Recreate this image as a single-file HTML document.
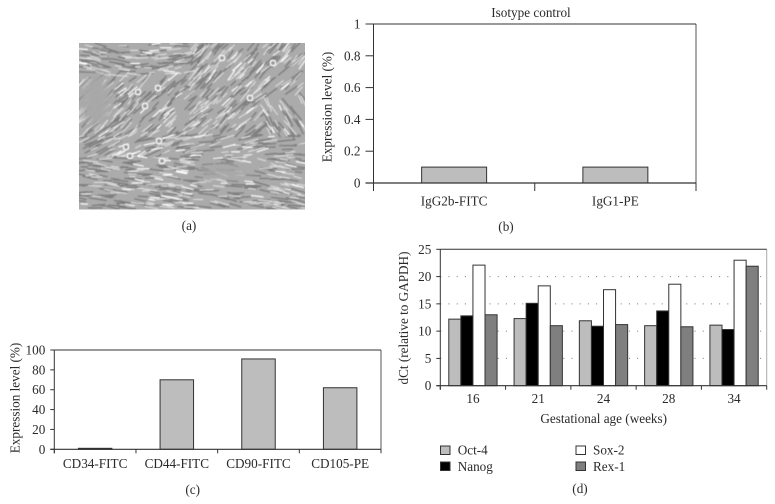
<!DOCTYPE html>
<html>
<head>
<meta charset="utf-8">
<style>
html,body{margin:0;padding:0;background:#fff;}
svg{display:block;}
text{font-family:"Liberation Serif",serif;fill:#2a2a2a;font-size:13.2px;}
</style>
</head>
<body>
<svg id="fig" width="775" height="504" viewBox="0 0 775 504" xmlns="http://www.w3.org/2000/svg">
<defs>
<clipPath id="photoClip"><rect x="79" y="43" width="226" height="166.5"/></clipPath>
<filter id="soft" x="-5%" y="-5%" width="110%" height="110%"><feGaussianBlur stdDeviation="0.6"/></filter>
<filter id="softer" x="-30%" y="-30%" width="160%" height="160%"><feGaussianBlur stdDeviation="5"/></filter>
</defs>
<rect width="775" height="504" fill="#fff"/>
<g id="photo" clip-path="url(#photoClip)"></g>
<text x="189" y="230" text-anchor="middle">(a)</text>
<g id="chartB"></g>
<g id="chartC"></g>
<g id="chartD"></g>
</svg>
<script>
// Chart data
const bCategories = ['IgG2b-FITC', 'IgG1-PE'];
const bValues = [0.1, 0.1];
const bTicks = [0, 0.2, 0.4, 0.6, 0.8, 1];

const cCategories = ['CD34-FITC', 'CD44-FITC', 'CD90-FITC', 'CD105-PE'];
const cValues = [1, 70, 91, 62];
const cTicks = [0, 20, 40, 60, 80, 100];

const dCategories = ['16', '21', '24', '28', '34'];
const dOct4 = [12.2, 12.3, 11.9, 11, 11.1];
const dNanog = [12.8, 15.1, 10.9, 13.7, 10.3];
const dSox2 = [22.1, 18.3, 17.6, 18.6, 23];
const dRex1 = [13, 11, 11.2, 10.8, 21.9];
const dTicks = [0, 5, 10, 15, 20, 25];

const NS = 'http://www.w3.org/2000/svg';
function mk(parent, tag, attrs, txt) {
  const el = document.createElementNS(NS, tag);
  for (const k in attrs) el.setAttribute(k, attrs[k]);
  if (txt !== undefined) el.textContent = txt;
  parent.appendChild(el);
  return el;
}
function line(parent, x1, y1, x2, y2, stroke, w) {
  const el = mk(parent, 'line', {x1, y1, x2, y2, stroke: stroke, 'stroke-width': w});
  
  
  return el;
}
function frame(g, L, R, T, B, yMax, ticks, cats, tickLen, labelY, labelPad, edgeColor) {
  const y = v => B - v / yMax * (B - T);
  const cw = (R - L) / cats.length;
  line(g, R, T, R, B, edgeColor, 1);
  line(g, L, T, R, T, '#333', 1);
  ticks.forEach(t => {
    line(g, L - tickLen, y(t), L, y(t), '#333', 1);
    const lab = mk(g, 'text', {x: L - labelPad, y: y(t) + 4.5, 'text-anchor': 'end'}, String(t));
    
    
  });
  line(g, L, T, L, B + tickLen, '#333', 1);
  for (let i = 0; i <= cats.length; i++) {
    line(g, L + i * cw, B, L + i * cw, B + tickLen, '#333', 1);
  }
  cats.forEach((c, i) => {
    const lab = mk(g, 'text', {x: L + (i + .5) * cw, y: labelY, 'text-anchor': 'middle'}, c);
    
    
  });
  return y;
}
function baseline(g, L, R, B) {
  line(g, L, B, R, B, '#333', 1.2);
}
function caption(g, x, y, txt, name) {
  const t = mk(g, 'text', {x, y, 'text-anchor': 'middle'}, txt);
  
  
  return t;
}
function yTitle(g, x, y, txt) {
  const t = mk(g, 'text', {x, y, 'text-anchor': 'middle', transform: 'rotate(-90 ' + x + ' ' + y + ')'}, txt);
  
  
  return t;
}

// Panel (b)
(function () {
  const g = document.getElementById('chartB');
  const L = 373.5, R = 696, T = 24, B = 183;
  const y = frame(g, L, R, T, B, 1, bTicks, bCategories, 8, 205.5, 13, '#555');
  const cw = (R - L) / bCategories.length;
  const bw = cw * 0.403;
  bValues.forEach((v, i) => {
    const cx = L + (i + .5) * cw;
    const r = mk(g, 'rect', {x: cx - bw / 2, y: y(v), width: bw, height: B - y(v), fill: '#bdbdbd', stroke: '#333', 'stroke-width': 1});
    
    
  });
  baseline(g, L - 8, R, B);
  caption(g, 531, 17, 'Isotype control', 'chart-title');
  yTitle(g, 331.5, 107, 'Expression level (%)');
  caption(g, 506, 231, '(b)', 'panel-b-label');
})();

// Panel (c)
(function () {
  const g = document.getElementById('chartC');
  const L = 54.3, R = 381, T = 350, B = 449.3;
  const y = frame(g, L, R, T, B, 100, cTicks, cCategories, 4, 468, 9, '#555');
  const cw = (R - L) / cCategories.length;
  const bw = cw * 0.41;
  cValues.forEach((v, i) => {
    const cx = L + (i + .5) * cw;
    const r = mk(g, 'rect', {x: cx - bw / 2, y: y(v), width: bw, height: B - y(v), fill: '#bdbdbd', stroke: '#333', 'stroke-width': 1});
    
    
  });
  baseline(g, L - 4, R, B);
  yTitle(g, 19.5, 398, 'Expression level (%)');
  caption(g, 192.7, 494, '(c)', 'panel-c-label');
})();

// Panel (d)
(function () {
  const g = document.getElementById('chartD');
  const L = 440.3, R = 766.7, T = 249.3, B = 385.7;
  const yMax = 25;
  const gy = v => B - v / yMax * (B - T);
  dTicks.filter(t => t > 0 && t < yMax).forEach(t => {
    const d = mk(g, 'line', {x1: L, y1: gy(t), x2: R, y2: gy(t), stroke: '#777', 'stroke-width': 1, 'stroke-dasharray': '1 7.2'});
    
    
  });
  const y = frame(g, L, R, T, B, yMax, dTicks, dCategories, 4, 403, 9, '#aaa');
  const series = [
    {name: 'oct-4', vals: dOct4, fill: '#bdbdbd'},
    {name: 'nanog', vals: dNanog, fill: '#000'},
    {name: 'sox-2', vals: dSox2, fill: '#fff'},
    {name: 'rex-1', vals: dRex1, fill: '#7f7f7f'}
  ];
  const cw = (R - L) / dCategories.length;
  const bw = cw * 0.185;
  dCategories.forEach((c, i) => {
    const cx = L + (i + .5) * cw;
    series.forEach((s, j) => {
      const v = s.vals[i];
      const r = mk(g, 'rect', {x: cx + (j - 2) * bw, y: y(v), width: bw, height: B - y(v), fill: s.fill, stroke: '#333', 'stroke-width': 1});
      
      
    });
  });
  baseline(g, L - 4, R, B);
  yTitle(g, 408, 318, 'dCt (relative to GAPDH)');
  caption(g, 603.7, 423, 'Gestational age (weeks)', 'x-axis-title');
  const legend = [
    {label: 'Oct-4', fill: '#bdbdbd', sx: 440.5, sy: 446, tx: 457.7, ty: 454.5},
    {label: 'Nanog', fill: '#000', sx: 440.5, sy: 462, tx: 457.7, ty: 471},
    {label: 'Sox-2', fill: '#fff', sx: 576, sy: 446, tx: 593, ty: 454.5},
    {label: 'Rex-1', fill: '#7f7f7f', sx: 576, sy: 462, tx: 593, ty: 471}
  ];
  legend.forEach(e => {
    const s = mk(g, 'rect', {x: e.sx, y: e.sy, width: 9.5, height: 8.5, fill: e.fill, stroke: '#333', 'stroke-width': 1});
    
    
    const t = mk(g, 'text', {x: e.tx, y: e.ty}, e.label);
    
    
  });
  caption(g, 580, 493, '(d)', 'panel-d-label');
})();

// Panel (a): decorative micrograph texture
(function () {
  const g = document.getElementById('photo');
  const X0 = 79, Y0 = 43, W = 226, H = 166.5;
  let seed = 20240611;
  const rnd = () => {
    seed = (seed + 0x6D2B79F5) | 0;
    let t = Math.imul(seed ^ (seed >>> 15), 1 | seed);
    t = (t + Math.imul(t ^ (t >>> 7), 61 | t)) ^ t;
    return ((t ^ (t >>> 14)) >>> 0) / 4294967296;
  };
  mk(g, 'rect', {x: X0, y: Y0, width: W, height: H, fill: '#ababab'});
  const angle = (fx, fy) => {
    if (fy > 0.68) return 6 + (fx - .5) * 6;
    if (fy > 0.55 && fx > 0.4) return -6 + (1 - fx) * -10;
    if (fy > 0.55) return -22;
    if (fy < 0.2 && fx < 0.5) return 15 - fx * 50;
    if (fx > 0.82 && fy > 0.3) return 60;
    return -48 + fy * 15;
  };
  function strokes(n, color, w, minL, maxL) {
    let d = '';
    for (let i = 0; i < n; i++) {
      const fx = rnd(), fy = rnd();
      const a = (angle(fx, fy) + (rnd() - .5) * 22) * Math.PI / 180;
      const len = minL + rnd() * (maxL - minL);
      const x = X0 + fx * W, y = Y0 + fy * H;
      const dx = Math.cos(a) * len / 2, dy = Math.sin(a) * len / 2;
      d += 'M' + (x - dx).toFixed(1) + ' ' + (y - dy).toFixed(1) + 'L' + (x + dx).toFixed(1) + ' ' + (y + dy).toFixed(1);
    }
    mk(g, 'path', {d, stroke: color, 'stroke-width': w, fill: 'none', 'stroke-linecap': 'round', filter: 'url(#soft)'});
  }
  strokes(560, '#7f7f7f', 1.4, 6, 18);
  strokes(430, '#dedede', 1.1, 5, 15);
  strokes(110, '#ffffff', 1.2, 5, 12);
  [[96, 100, 14, 26], [225, 172, 26, 7]].forEach(p => {
    mk(g, 'ellipse', {cx: p[0], cy: p[1], rx: p[2], ry: p[3], fill: '#a8a8a8', filter: 'url(#softer)'});
  });
  [[222, 58], [273, 63], [158, 88], [138, 92], [145, 106], [250, 98], [126, 147], [130, 156], [159, 141], [162, 161]].forEach(p => {
    mk(g, 'circle', {cx: p[0], cy: p[1], r: 2.8, fill: '#999', stroke: '#eee', 'stroke-width': 1.8, filter: 'url(#soft)'});
  });
})();
</script>
</body>
</html>
